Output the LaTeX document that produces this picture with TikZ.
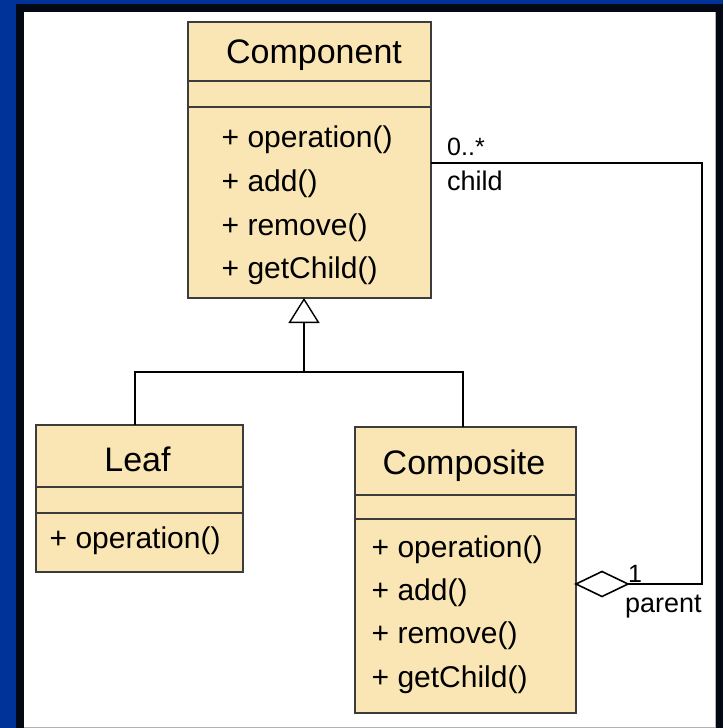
\documentclass[tikz,border=0pt]{standalone}
\usepackage{fontspec}
\setmainfont{Liberation Sans}
\usetikzlibrary{arrows.meta,shapes.geometric}
\definecolor{bgblue}{RGB}{0,51,153}
\definecolor{frameblack}{RGB}{2,8,20}
\definecolor{umlfill}{RGB}{250,230,180}
\definecolor{umlline}{RGB}{60,60,60}
\begin{document}
\begin{tikzpicture}[x=1pt,y=-1pt,
  part/.style={draw=umlline, fill=umlfill, line width=1.2pt, rectangle, inner sep=0pt, outer sep=0pt, anchor=north west},
  title/.style={font=\fontsize{34}{40}\selectfont, inner sep=0pt, anchor=base},
  op/.style={font=\fontsize{30}{36}\selectfont, inner sep=0pt, anchor=base west},
  lbl/.style={font=\fontsize{27}{32}\selectfont, inner sep=0pt, anchor=base west},
  mult/.style={font=\fontsize{25}{30}\selectfont, inner sep=0pt, anchor=base west},
  conn/.style={draw=black, line width=1.4pt}]
% background and frame
\fill[bgblue] (0,0) rectangle (723,728);
\fill[frameblack] (16,4) rectangle (723,728);
\fill[white] (24,12) rectangle (715,727);
\draw[gray!60, line width=1pt] (715.5,12) -- (715.5,727.5) -- (24,727.5);
\useasboundingbox (0,0) rectangle (723,728);
% Component
\node[part, minimum width=243pt, minimum height=59pt] (compName) at (188,22) {};
\node[part, minimum width=243pt, minimum height=26pt] (compAttr) at (compName.south west) {};
\node[part, minimum width=243pt, minimum height=191pt] (compOps) at (compAttr.south west) {};
% Leaf
\node[part, minimum width=207pt, minimum height=62pt] (leafName) at (36,425) {};
\node[part, minimum width=207pt, minimum height=26pt] (leafAttr) at (leafName.south west) {};
\node[part, minimum width=207pt, minimum height=59pt] (leafOps) at (leafAttr.south west) {};
% Composite
\node[part, minimum width=221pt, minimum height=68pt] (compoName) at (355,427) {};
\node[part, minimum width=221pt, minimum height=24pt] (compoAttr) at (compoName.south west) {};
\node[part, minimum width=221pt, minimum height=194pt] (compoOps) at (compoAttr.south west) {};
% texts
\node[title] (tComp) at (314,63) {Component};
\node[op] (c1) at (221.5,147) {+ operation()};
\node[op] (c2) at (221.5,191) {+ add()};
\node[op] (c3) at (221.5,235) {+ remove()};
\node[op] (c4) at (221.5,278) {+ getChild()};
\node[title] (tLeaf) at (137.5,471) {Leaf};
\node[op] (l1) at (49.5,548) {+ operation()};
\node[title] (tCompo) at (464,474) {Composite};
\node[op] (k1) at (371.5,557) {+ operation()};
\node[op] (k2) at (371.5,600) {+ add()};
\node[op] (k3) at (371.5,643) {+ remove()};
\node[op] (k4) at (371.5,687) {+ getChild()};
% generalization
\coordinate (gj) at (304,372);
\draw[conn, -{Triangle[open, length=25pt, width=31pt, line width=1.4pt]}] (gj) -- (gj |- compOps.south);
\draw[conn] ([xshift=-4.5pt]leafName.north) |- (gj) -| ([xshift=-2.5pt]compoName.north);
% aggregation
\node[diamond, draw=black, fill=white, line width=1.6pt, minimum width=52pt, minimum height=25pt, inner sep=0pt, outer sep=0pt, anchor=west] (dia) at ([yshift=32pt]compoOps.east) {};
\coordinate (ac) at (702,584);
\draw[conn] ([yshift=39.5pt]compOps.east) -| (ac) -- (dia.east);
% labels
\node[mult] (m0) at (447,155) {0..*};
\node[lbl] (lc) at (447,190) {child};
\node[mult] (m1) at (628,582) {1};
\node[lbl] (lp) at (625,612) {parent};
\end{tikzpicture}
\end{document}
